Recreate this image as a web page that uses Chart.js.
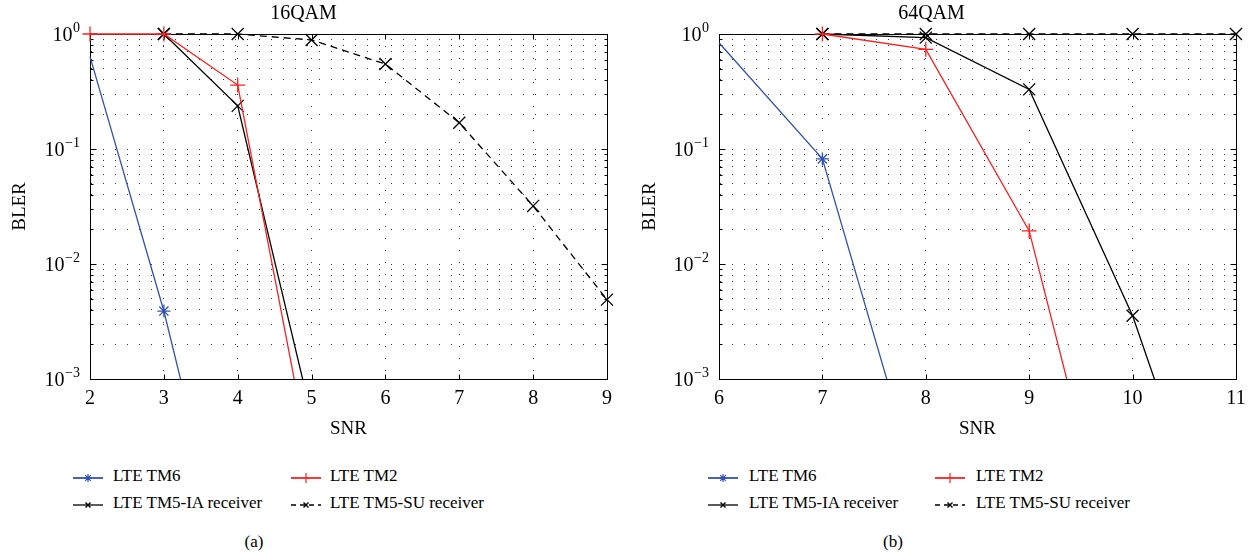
<!DOCTYPE html>
<html><head><meta charset="utf-8">
<script src="https://cdn.jsdelivr.net/npm/chart.js@4.4.1/dist/chart.umd.min.js"></script>
<style>
html,body{margin:0;padding:0;background:#fff;}
body{width:1253px;height:556px;position:relative;overflow:hidden;font-family:"Liberation Serif","Times New Roman",serif;color:#000;}
canvas{position:absolute;top:0;}
.lt{position:absolute;font-size:17px;line-height:20px;white-space:nowrap;}
.ls{position:absolute;}
.cap{position:absolute;font-size:17px;line-height:20px;transform:translateX(-50%);}
</style></head><body>
<canvas id="c1" width="627" height="440" style="left:0;width:627px;height:440px"></canvas>
<canvas id="c2" width="626" height="440" style="left:627px;width:626px;height:440px"></canvas>
<div id="extras"></div>
<script>
// ---------- DATA ----------
const titles = ["16QAM", "64QAM"];
const seriesLabels = ["LTE TM6", "LTE TM2", "LTE TM5-IA receiver", "LTE TM5-SU receiver"];
const captions = ["(a)", "(b)"];

// 16QAM
const xTicks16 = [2, 3, 4, 5, 6, 7, 8, 9];
const tm6_16_snr = [2, 3, 4];
const tm6_16 = [0.635, 0.0039, 9.3e-6];
const tm2_16_snr = [2, 3, 4, 5];
const tm2_16 = [1, 1, 0.36, 1.64e-4];
const ia_16_snr = [3, 4, 5];
const ia_16 = [1, 0.237, 4.7e-4];
const su_16_snr = [3, 4, 5, 6, 7, 8, 9];
const su_16 = [1, 1, 0.887, 0.548, 0.169, 0.032, 0.0049];

// 64QAM
const xTicks64 = [6, 7, 8, 9, 10, 11];
const tm6_64_snr = [6, 7, 8];
const tm6_64 = [0.84, 0.082, 6.9e-5];
const tm2_64_snr = [7, 8, 9, 10];
const tm2_64 = [1, 0.736, 0.0194, 5.5e-6];
const ia_64_snr = [7, 8, 9, 10, 11];
const ia_64 = [1, 0.93, 0.33, 0.00355, 8.7e-6];
const su_64_snr = [7, 8, 9, 10, 11];
const su_64 = [1, 1, 1, 1, 1];

// y axis ticks (log)
const yMajorTicks = [0.001, 0.01, 0.1, 1];
const yTickValues = [];
for (let e = -3; e < 0; e++) for (let m = 1; m < 10; m++) yTickValues.push(+(m * Math.pow(10, e)).toPrecision(3));
yTickValues.push(1);

// ---------- STYLE ----------
const FONT = '"Liberation Serif", "Times New Roman", serif';
const BLUE = '#3352b0', RED = '#ff1f1f', BLACK = '#000';

function ds(label, xs, ys, color, style, r, dash, hideFirst) {
  return {
    label,
    data: xs.map((x, i) => ({ x, y: ys[i] })),
    borderColor: color, backgroundColor: color,
    borderWidth: 1.3, borderDash: dash || [],
    pointStyle: style,
    pointRadius: xs.map((_, i) => (hideFirst && i === 0) ? 0 : r),
    pointBorderWidth: 1.3, pointBorderColor: color,
    fill: false, tension: 0,
    clip: { left: 14, top: 14, right: 14, bottom: 0 }
  };
}

const framePlugin = {
  id: 'frame',
  beforeDatasetsDraw(chart) {
    const ctx = chart.ctx, a = chart.chartArea, xs = chart.scales.x, ys = chart.scales.y;
    ctx.save();
    ctx.strokeStyle = '#000'; ctx.lineWidth = 1; ctx.setLineDash([]);
    const L = Math.round(a.left) + 0.5, R = Math.round(a.right) + 0.5, T = Math.round(a.top) + 0.5, B = Math.round(a.bottom) + 0.5;
    ctx.beginPath();
    ctx.rect(L, T, R - L, B - T);
    xs.ticks.forEach(t => {
      const px = Math.round(xs.getPixelForValue(t.value)) + 0.5;
      ctx.moveTo(px, B); ctx.lineTo(px, B - 5);
      ctx.moveTo(px, T); ctx.lineTo(px, T + 5);
    });
    ys.ticks.forEach(t => {
      const py = Math.round(ys.getPixelForValue(t.value)) + 0.5;
      const major = yMajorTicks.includes(t.value);
      const len = major ? 6 : 3;
      ctx.moveTo(L, py); ctx.lineTo(L + len, py);
      ctx.moveTo(R, py); ctx.lineTo(R - len, py);
    });
    ctx.stroke();
    ctx.restore();
  },
  afterDraw(chart) {
    const ctx = chart.ctx, ys = chart.scales.y, a = chart.chartArea;
    ctx.save();
    ctx.fillStyle = '#000'; ctx.textBaseline = 'alphabetic'; ctx.textAlign = 'right';
    yMajorTicks.forEach(v => {
      const py = ys.getPixelForValue(v);
      const e = Math.round(Math.log10(v));
      const es = e < 0 ? '\u2212' + (-e) : String(e);
      const xr = a.left - 10;
      ctx.font = '14px ' + FONT;
      const ew = ctx.measureText(es).width;
      ctx.fillText(es, xr, py - 2);
      ctx.font = '20px ' + FONT;
      ctx.fillText('10', xr - ew - 0.5, py + 7);
    });
    ctx.restore();
  }
};

function makeChart(id, title, xTicks, sets, yAxisWidth, padRight, yTitlePad) {
  return new Chart(document.getElementById(id), {
    type: 'line',
    data: { datasets: sets },
    options: {
      responsive: false, animation: false, events: [],
      layout: { padding: { left: 0, top: 0, right: padRight, bottom: 0 } },
      plugins: {
        legend: { display: false }, tooltip: { enabled: false },
        title: { display: true, text: title, color: '#000', font: { family: FONT, size: 20, weight: 'normal', lineHeight: 1.2 }, padding: { top: 2, bottom: 8 } }
      },
      scales: {
        x: {
          type: 'linear', min: xTicks[0], max: xTicks[xTicks.length - 1],
          afterBuildTicks: s => { s.ticks = xTicks.map(v => ({ value: v })); },
          afterFit: s => { s.height = 61; s.paddingLeft = 0; s.paddingRight = 0; },
          ticks: { color: '#000', font: { family: FONT, size: 20 }, padding: 8, autoSkip: false, maxRotation: 0, callback: v => String(v) },
          grid: { color: '#333', lineWidth: 1, drawTicks: false },
          border: { display: true, color: '#000', width: 1, dash: [1, 11] },
          title: { display: true, text: 'SNR', color: '#000', font: { family: FONT, size: 19, lineHeight: 1.2 }, padding: { top: 0, bottom: 0 } }
        },
        y: {
          type: 'logarithmic', min: 0.001, max: 1,
          afterBuildTicks: s => { s.ticks = yTickValues.map(v => ({ value: v })); },
          afterFit: s => { s.width = yAxisWidth; s.paddingTop = 0; s.paddingBottom = 0; },
          ticks: { display: false, autoSkip: false },
          grid: { color: '#333', lineWidth: 1, drawTicks: false },
          border: { display: true, color: '#000', width: 1, dash: [1, 11] },
          title: { display: true, text: 'BLER', color: '#000', font: { family: FONT, size: 19, lineHeight: 1.2 }, padding: { top: yTitlePad, bottom: 0 } }
        }
      }
    },
    plugins: [framePlugin]
  });
}

makeChart('c1', titles[0], xTicks16, [
  ds(seriesLabels[0], tm6_16_snr, tm6_16, BLUE, 'star', 6.5, null, true),
  ds(seriesLabels[1], tm2_16_snr, tm2_16, RED, 'cross', 7.5),
  ds(seriesLabels[2], ia_16_snr, ia_16, BLACK, 'crossRot', 8.5),
  ds(seriesLabels[3], su_16_snr, su_16, BLACK, 'crossRot', 8.5, [7, 5])
], 90, 20, 8.6);

makeChart('c2', titles[1], xTicks64, [
  ds(seriesLabels[0], tm6_64_snr, tm6_64, BLUE, 'star', 6.5, null, true),
  ds(seriesLabels[1], tm2_64_snr, tm2_64, RED, 'cross', 7.5),
  ds(seriesLabels[2], ia_64_snr, ia_64, BLACK, 'crossRot', 8.5),
  ds(seriesLabels[3], su_64_snr, su_64, BLACK, 'crossRot', 8.5, [7, 5])
], 92, 17, 11.6);

// ---------- LEGENDS ----------
function sampleSVG(i) {
  const col = [BLUE, RED, BLACK, BLACK][i];
  const dash = i === 3 ? ' stroke-dasharray="5,4"' : '';
  let mk = '';
  if (i === 0) mk = `<path d="M15 2V10M11 6H19M12.2 3.2L17.8 8.8M17.8 3.2L12.2 8.8" stroke="${col}" stroke-width="1.2"/>`;
  if (i === 1) mk = `<path d="M15 1V11" stroke="${col}" stroke-width="1.2"/>`;
  if (i >= 2) mk = `<path d="M12.5 3.5L17.5 8.5M17.5 3.5L12.5 8.5" stroke="${col}" stroke-width="1.4"/>`;
  const lineW = i === 0 || i === 1 ? 1.8 : 1.3;
  return `<svg width="30" height="12" viewBox="0 0 30 12"><line x1="0" y1="6" x2="30" y2="6" stroke="${col}" stroke-width="${lineW}"${dash}/>${mk}</svg>`;
}
const ex = document.getElementById('extras');
const legendPos = [
  { sx: [73, 291], tx: [113, 330], cap: 254 },
  { sx: [708, 935], tx: [749, 976], cap: 893 }
];
const rowsY = [476, 503];
legendPos.forEach((p, k) => {
  seriesLabels.forEach((lab, i) => {
    const col = i % 2, row = Math.floor(i / 2);
    const s = document.createElement('div');
    s.className = 'ls'; s.style.left = p.sx[col] + 'px'; s.style.top = (rowsY[row] - 6) + 'px';
    s.innerHTML = sampleSVG(i);
    ex.appendChild(s);
    const t = document.createElement('div');
    t.className = 'lt'; t.style.left = p.tx[col] + 'px'; t.style.top = (rowsY[row] - 10) + 'px';
    t.textContent = lab;
    ex.appendChild(t);
  });
  const c = document.createElement('div');
  c.className = 'cap'; c.style.left = p.cap + 'px'; c.style.top = '532px';
  c.textContent = captions[k];
  ex.appendChild(c);
});
</script>
</body></html>
